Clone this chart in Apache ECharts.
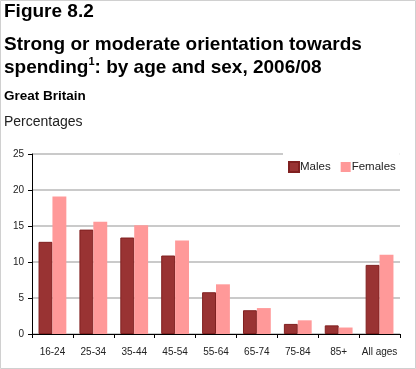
<!DOCTYPE html>
<html><head><meta charset="utf-8">
<script src="https://cdn.jsdelivr.net/npm/echarts@6/dist/echarts.min.js"></script>
<style>html,body{margin:0;padding:0;background:#fff}#c{width:416px;height:369px}</style>
</head><body><div id="c"></div>
<script>
const categories = ['16-24','25-34','35-44','45-54','55-64','65-74','75-84','85+','All ages'];
const males = [12.8, 14.5, 13.4, 10.9, 5.8, 3.3, 1.4, 1.2, 9.6];
const females = [19.1, 15.6, 15.1, 13.0, 6.9, 3.6, 1.9, 0.9, 11.0];
const yTicks = [0, 5, 10, 15, 20, 25];

const F = '"Liberation Sans", Arial, sans-serif';
const chart = echarts.init(document.getElementById('c'));
chart.setOption({
  animation: false,
  backgroundColor: '#fff',
  textStyle: { fontFamily: F },
  graphic: [
    { type: 'rect', shape: { x: 0.5, y: 0.5, width: 415, height: 368 }, style: { fill: 'none', stroke: '#d0d0d0', lineWidth: 1 }, z: 100 },
    { type: 'text', left: 4, top: 2, style: { text: 'Figure 8.2', font: 'bold 19px ' + F, fill: '#000' } },
    { type: 'text', left: 4, top: 35, style: {
        text: '{a|Strong or moderate orientation towards}\n{a|spending}{s|1}{a|: by age and sex, 2006/08}',
        rich: {
          a: { font: 'bold 19px ' + F, fill: '#000', lineHeight: 23 },
          s: { font: 'bold 11px ' + F, fill: '#000', verticalAlign: 'top', lineHeight: 23, padding: [0,0,9,0] }
        }
    } },
    { type: 'text', left: 4, top: 89, style: { text: 'Great Britain', font: 'bold 13.5px ' + F, fill: '#000' } },
    { type: 'text', left: 4, top: 115, style: { text: 'Percentages', font: '14px ' + F, fill: '#222' } }
  ],
  legend: {
    data: ['Males', 'Females'],
    left: 283, top: 152, width: 117,
    backgroundColor: '#fff',
    padding: [9, 4, 6, 5],
    itemWidth: 10, itemHeight: 10, itemGap: 10,
    icon: 'rect',
    textStyle: { fontSize: 11.5, color: '#222', fontFamily: F, padding: [0, 0, 0, -4] }
  },
  grid: { left: 32, right: 16, top: 154, bottom: 35, containLabel: false },
  xAxis: {
    type: 'category', data: categories,
    axisLine: { lineStyle: { color: '#000', width: 1 } },
    axisTick: { show: true, alignWithLabel: false, lineStyle: { color: '#000' }, length: 4 },
    axisLabel: { fontSize: 10, color: '#222', margin: 13, interval: 0 }
  },
  yAxis: {
    type: 'value', min: yTicks[0], max: yTicks[yTicks.length - 1], interval: 5,
    axisLine: { show: true, lineStyle: { color: '#000', width: 1 } },
    axisTick: { show: true, lineStyle: { color: '#000' }, length: 4 },
    axisLabel: { fontSize: 10, color: '#222', margin: 8 },
    splitLine: { lineStyle: { color: '#b8b8b8', width: 1.5 } }
  },
  series: [
    { name: 'Males', type: 'bar', data: males, barGap: '0%', barCategoryGap: '32%',
      itemStyle: { color: '#993333', borderColor: '#802020', borderWidth: 1 } },
    { name: 'Females', type: 'bar', data: females,
      itemStyle: { color: '#ff9999' } }
  ]
});
</script></body></html>
